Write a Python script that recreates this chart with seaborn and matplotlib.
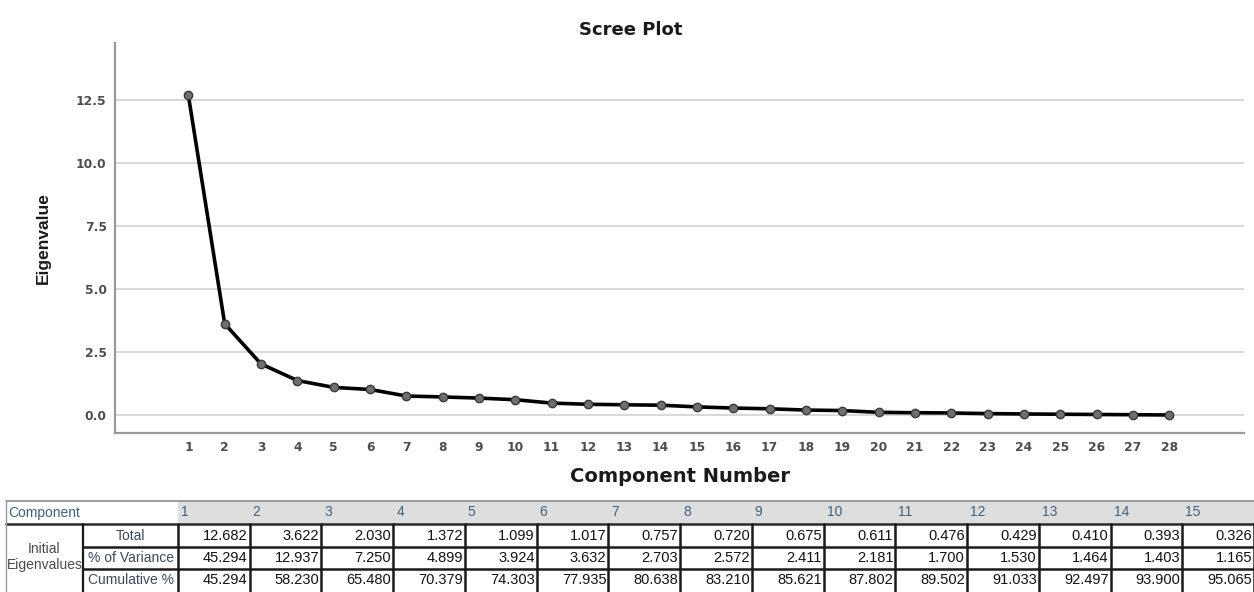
import matplotlib
matplotlib.use("Agg")
import matplotlib.pyplot as plt
from matplotlib.lines import Line2D
from matplotlib.patches import Rectangle
import seaborn as sns
import pandas as pd

# ---- data ----
components = list(range(1, 29))
eigenvalues = [12.682, 3.622, 2.030, 1.372, 1.099, 1.017, 0.757, 0.720, 0.675,
               0.611, 0.476, 0.429, 0.410, 0.393, 0.326, 0.280, 0.250, 0.200,
               0.180, 0.110, 0.095, 0.085, 0.060, 0.045, 0.035, 0.025, 0.015, 0.005]
table_components = list(range(1, 16))
table_total = ["12.682", "3.622", "2.030", "1.372", "1.099", "1.017", "0.757", "0.720",
               "0.675", "0.611", "0.476", "0.429", "0.410", "0.393", "0.326"]
table_pct = ["45.294", "12.937", "7.250", "4.899", "3.924", "3.632", "2.703", "2.572",
             "2.411", "2.181", "1.700", "1.530", "1.464", "1.403", "1.165"]
table_cum = ["45.294", "58.230", "65.480", "70.379", "74.303", "77.935", "80.638", "83.210",
             "85.621", "87.802", "89.502", "91.033", "92.497", "93.900", "95.065"]
row_labels = ["Total", "% of Variance", "Cumulative %"]
y_ticks = [0.0, 2.5, 5.0, 7.5, 10.0, 12.5]

df = pd.DataFrame({"Component Number": components, "Eigenvalue": eigenvalues})

sns.set_theme(style="white")
plt.rcParams['font.family'] = ['DejaVu Sans']

W, H = 1254, 592
fig = plt.figure(figsize=(W / 100, H / 100), dpi=100)
ax = fig.add_axes([115 / W, 1 - 433 / H, (1244 - 115) / W, (433 - 43) / H])

sns.lineplot(data=df, x="Component Number", y="Eigenvalue", ax=ax, color="black",
             linewidth=2.6, marker="o", markersize=6, markerfacecolor="#6f6f6f",
             markeredgecolor="#3a3a3a", markeredgewidth=1.0, zorder=3)

ax.set_xlim(-1.02, 30.06)
ax.set_ylim(-0.71, 14.76)
ax.set_xticks(components)
ax.set_xticklabels([str(c) for c in components])
ax.set_yticks(y_ticks)
ax.set_yticklabels([f"{v:.1f}" for v in y_ticks])
ax.tick_params(axis="both", length=0, labelsize=8.8, labelcolor="#4d4d4d")
ax.tick_params(axis="x", pad=6)
ax.tick_params(axis="y", pad=6)
for lab in ax.get_xticklabels() + ax.get_yticklabels():
    lab.set_fontweight("bold")
ax.grid(axis="y", color="#d9d9d9", linewidth=1.5)
ax.grid(axis="x", visible=False)
for s in ["top", "right"]:
    ax.spines[s].set_visible(False)
for s in ["left", "bottom"]:
    ax.spines[s].set_color("#9a9a9a")
    ax.spines[s].set_linewidth(1.6)

ax.set_xlabel("Component Number", fontsize=14, fontweight="bold", color="#1a1a1a")
ax.xaxis.set_label_coords(0.5, (433 - 476) / 390)
ax.xaxis.label.set_verticalalignment("center")
ax.set_ylabel("Eigenvalue", fontsize=12.5, fontweight="bold", color="#1a1a1a",
              family=["Liberation Sans Narrow", "Liberation Sans", "DejaVu Sans"])
ax.yaxis.set_label_coords((43 - 115) / 1129, 0.5)
ax.yaxis.label.set_verticalalignment("center")

fig.text(631 / W, 1 - 30 / H, "Scree Plot", ha="center", va="center",
         fontsize=13, fontweight="bold", color="#1a1a1a")

# ---- table ----
def fx(x):
    return x / W

def fy(y):
    return 1 - y / H

def hline(x0, x1, y, color, lw):
    fig.add_artist(Line2D([fx(x0), fx(x1)], [fy(y), fy(y)], color=color, linewidth=lw))

def vline(x, y0, y1, color, lw):
    fig.add_artist(Line2D([fx(x), fx(x)], [fy(y0), fy(y1)], color=color, linewidth=lw))

tf = ["Liberation Sans", "DejaVu Sans"]
top, hb, r1, r2, bot = 501, 524, 547, 569, 592
c0, c1, c2 = 6, 83, 178
cw = (W - c2) / 15

fig.add_artist(Rectangle((fx(c2), fy(hb)), fx(W) - fx(c2), fy(top) - fy(hb),
                         facecolor="#dedede", edgecolor="none"))
hline(c0, W, top, "#8c8c8c", 1.2)
hline(c0, W, hb, "#2a2a2a", 1.8)
hline(c1, W, r1, "#1a1a1a", 1.8)
hline(c1, W, r2, "#1a1a1a", 1.8)
vline(c0, top, bot, "#9a9a9a", 1.0)
vline(c1, hb, bot, "#1a1a1a", 1.6)
for i in range(16):
    vline(c2 + i * cw, hb, bot, "#1a1a1a", 1.8)

hdr_color = "#3f607e"
fig.text(fx(c0 + 2), fy((top + hb) / 2), "Component", ha="left", va="center",
         fontsize=10, color=hdr_color, family=tf)
for i, c in enumerate(table_components):
    fig.text(fx(c2 + i * cw + 3), fy((top + hb) / 2), str(c), ha="left", va="center",
             fontsize=10, color=hdr_color, family=tf)

fig.text(fx((c0 + c1) / 2), fy(557), "Initial\nEigenvalues", ha="center", va="center",
         fontsize=10, color="#4a4a4a", family=tf, linespacing=1.2)
row_bounds = [(hb, r1), (r1, r2), (r2, bot)]
for (y0, y1), lab, vals in zip(row_bounds, row_labels, [table_total, table_pct, table_cum]):
    yc = (y0 + y1) / 2
    fig.text(fx((c1 + c2) / 2), fy(yc), lab, ha="center", va="center",
             fontsize=10, color="#3a4a5a", family=tf)
    for i, v in enumerate(vals):
        fig.text(fx(c2 + (i + 1) * cw - 2), fy(yc), v, ha="right", va="center",
                 fontsize=10.5, color="#111111", family=tf)

fig.savefig("out.png", dpi=100, facecolor="white")
